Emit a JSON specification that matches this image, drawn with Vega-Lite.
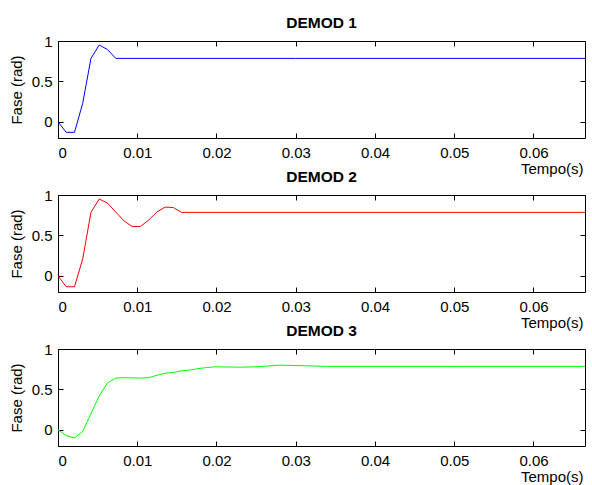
{
  "$schema": "https://vega.github.io/schema/vega-lite/v6.json",
  "padding": {"left": 8, "top": 15, "right": 4, "bottom": 3},
  "bounds": "flush",
  "spacing": 57,
  "background": "white",
  "config": {
    "font": "Liberation Sans",
    "view": {"stroke": "black", "strokeWidth": 1},
    "axis": {
      "grid": false,
      "domain": false,
      "tickColor": "black",
      "tickSize": -5,
      "labelColor": "black",
      "labelFont": "Liberation Sans",
      "labelFontSize": 15,
      "titleFont": "Liberation Sans",
      "titleFontSize": 15,
      "titleFontWeight": "normal",
      "titleColor": "black"
    },
    "title": {"font": "Liberation Sans", "fontSize": 15.5, "fontWeight": "bold", "color": "black", "baseline": "alphabetic", "offset": 3}
  },
  "datasets": {
    "d1": [
      {"t": 0, "fase": 0},
      {"t": 0.00104, "fase": -0.13},
      {"t": 0.00208, "fase": -0.13},
      {"t": 0.00312, "fase": 0.23},
      {"t": 0.00416, "fase": 0.785},
      {"t": 0.0052, "fase": 0.95},
      {"t": 0.00624, "fase": 0.895},
      {"t": 0.00728, "fase": 0.785},
      {"t": 0.03, "fase": 0.785},
      {"t": 0.0665, "fase": 0.785}
    ],
    "d2": [
      {"t": 0, "fase": 0},
      {"t": 0.00104, "fase": -0.135},
      {"t": 0.00208, "fase": -0.135},
      {"t": 0.00312, "fase": 0.21},
      {"t": 0.00416, "fase": 0.786},
      {"t": 0.0052, "fase": 0.95},
      {"t": 0.00624, "fase": 0.9},
      {"t": 0.00728, "fase": 0.79},
      {"t": 0.00832, "fase": 0.68},
      {"t": 0.00936, "fase": 0.61},
      {"t": 0.0104, "fase": 0.61},
      {"t": 0.01144, "fase": 0.69},
      {"t": 0.01248, "fase": 0.79},
      {"t": 0.01352, "fase": 0.85},
      {"t": 0.01456, "fase": 0.845},
      {"t": 0.0156, "fase": 0.785},
      {"t": 0.04, "fase": 0.785},
      {"t": 0.0665, "fase": 0.785}
    ],
    "d3": [
      {"t": 0, "fase": 0},
      {"t": 0.00104, "fase": -0.07},
      {"t": 0.00208, "fase": -0.1},
      {"t": 0.00312, "fase": -0.02},
      {"t": 0.00416, "fase": 0.2},
      {"t": 0.0052, "fase": 0.42},
      {"t": 0.00624, "fase": 0.58},
      {"t": 0.00728, "fase": 0.64},
      {"t": 0.00832, "fase": 0.645},
      {"t": 0.00936, "fase": 0.643},
      {"t": 0.0104, "fase": 0.64},
      {"t": 0.01144, "fase": 0.645},
      {"t": 0.01248, "fase": 0.675},
      {"t": 0.01352, "fase": 0.7},
      {"t": 0.01456, "fase": 0.71},
      {"t": 0.0156, "fase": 0.73},
      {"t": 0.01664, "fase": 0.74},
      {"t": 0.01768, "fase": 0.757},
      {"t": 0.01872, "fase": 0.77},
      {"t": 0.01976, "fase": 0.78},
      {"t": 0.023, "fase": 0.775},
      {"t": 0.025, "fase": 0.78},
      {"t": 0.028, "fase": 0.8},
      {"t": 0.0302, "fase": 0.795},
      {"t": 0.034, "fase": 0.785},
      {"t": 0.05, "fase": 0.785},
      {"t": 0.0665, "fase": 0.785}
    ]
  },
  "vconcat": [
    {
      "title": "DEMOD 1",
      "width": 527,
      "height": 97,
      "data": {"name": "d1"},
      "layer": [
        {
          "mark": {"type": "line", "color": "#0000FF", "strokeWidth": 1},
          "encoding": {
            "x": {"field": "t", "type": "quantitative", "scale": {"domain": [0, 0.0665], "nice": false, "zero": false},
                  "axis": {"orient": "bottom", "values": [0, 0.01, 0.02, 0.03, 0.04, 0.05, 0.06], "format": "~g", "labelPadding": 12, "title": "Tempo(s)", "titleX": 525, "titleY": 35, "titleAlign": "right", "titleBaseline": "alphabetic"}},
            "y": {"field": "fase", "type": "quantitative", "scale": {"domain": [-0.2, 1], "nice": false, "zero": false},
                  "axis": {"orient": "left", "values": [0, 0.5, 1], "format": "~g", "labelPadding": 11, "title": "Fase (rad)", "titleX": -42, "titleY": 48.5, "titleAngle": -90, "titleAlign": "center", "titleBaseline": "middle"}}
          }
        },
        {
          "mark": {"type": "line", "opacity": 0},
          "encoding": {
            "x": {"field": "t", "type": "quantitative", "axis": {"orient": "top", "values": [0, 0.01, 0.02, 0.03, 0.04, 0.05, 0.06], "labels": false, "title": null}},
            "y": {"field": "fase", "type": "quantitative", "axis": {"orient": "right", "values": [0, 0.5, 1], "labels": false, "title": null}}
          }
        }
      ],
      "resolve": {"axis": {"x": "independent", "y": "independent"}}
    },
    {
      "title": "DEMOD 2",
      "width": 527,
      "height": 97,
      "data": {"name": "d2"},
      "layer": [
        {
          "mark": {"type": "line", "color": "#FF0000", "strokeWidth": 1},
          "encoding": {
            "x": {"field": "t", "type": "quantitative", "scale": {"domain": [0, 0.0665], "nice": false, "zero": false},
                  "axis": {"orient": "bottom", "values": [0, 0.01, 0.02, 0.03, 0.04, 0.05, 0.06], "format": "~g", "labelPadding": 12, "title": "Tempo(s)", "titleX": 525, "titleY": 35, "titleAlign": "right", "titleBaseline": "alphabetic"}},
            "y": {"field": "fase", "type": "quantitative", "scale": {"domain": [-0.2, 1], "nice": false, "zero": false},
                  "axis": {"orient": "left", "values": [0, 0.5, 1], "format": "~g", "labelPadding": 11, "title": "Fase (rad)", "titleX": -42, "titleY": 48.5, "titleAngle": -90, "titleAlign": "center", "titleBaseline": "middle"}}
          }
        },
        {
          "mark": {"type": "line", "opacity": 0},
          "encoding": {
            "x": {"field": "t", "type": "quantitative", "axis": {"orient": "top", "values": [0, 0.01, 0.02, 0.03, 0.04, 0.05, 0.06], "labels": false, "title": null}},
            "y": {"field": "fase", "type": "quantitative", "axis": {"orient": "right", "values": [0, 0.5, 1], "labels": false, "title": null}}
          }
        }
      ],
      "resolve": {"axis": {"x": "independent", "y": "independent"}}
    },
    {
      "title": "DEMOD 3",
      "width": 527,
      "height": 97,
      "data": {"name": "d3"},
      "layer": [
        {
          "mark": {"type": "line", "color": "#00FF00", "strokeWidth": 1},
          "encoding": {
            "x": {"field": "t", "type": "quantitative", "scale": {"domain": [0, 0.0665], "nice": false, "zero": false},
                  "axis": {"orient": "bottom", "values": [0, 0.01, 0.02, 0.03, 0.04, 0.05, 0.06], "format": "~g", "labelPadding": 12, "title": "Tempo(s)", "titleX": 525, "titleY": 35, "titleAlign": "right", "titleBaseline": "alphabetic"}},
            "y": {"field": "fase", "type": "quantitative", "scale": {"domain": [-0.2, 1], "nice": false, "zero": false},
                  "axis": {"orient": "left", "values": [0, 0.5, 1], "format": "~g", "labelPadding": 11, "title": "Fase (rad)", "titleX": -42, "titleY": 48.5, "titleAngle": -90, "titleAlign": "center", "titleBaseline": "middle"}}
          }
        },
        {
          "mark": {"type": "line", "opacity": 0},
          "encoding": {
            "x": {"field": "t", "type": "quantitative", "axis": {"orient": "top", "values": [0, 0.01, 0.02, 0.03, 0.04, 0.05, 0.06], "labels": false, "title": null}},
            "y": {"field": "fase", "type": "quantitative", "axis": {"orient": "right", "values": [0, 0.5, 1], "labels": false, "title": null}}
          }
        }
      ],
      "resolve": {"axis": {"x": "independent", "y": "independent"}}
    }
  ]
}
